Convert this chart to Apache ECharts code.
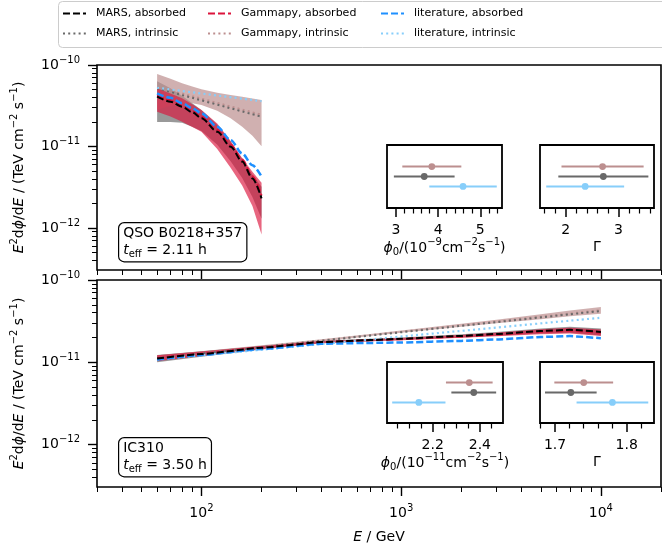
<!DOCTYPE html>
<html><head><meta charset="utf-8">
<script src="https://cdn.jsdelivr.net/npm/echarts@6/dist/echarts.min.js"></script>
<style>html,body{margin:0;padding:0;background:#fff}#c{width:662px;height:547px}</style>
</head><body><div id="c"></div>
<script>
// ---------------- data ----------------
const seriesNames = ['MARS, absorbed', 'MARS, intrinsic', 'Gammapy, absorbed', 'Gammapy, intrinsic', 'literature, absorbed', 'literature, intrinsic'];
const xTickLabels = [100, 1000, 10000];
const yTickLabels = [1e-12, 1e-11, 1e-10];

// Top panel: QSO B0218+357
const topE = [60, 70, 80, 90, 100, 120, 140, 160, 180, 200];
const topMarsAbs = [4.08e-11, 3.55e-11, 3.08e-11, 2.63e-11, 2.22e-11, 1.52e-11, 9.95e-12, 6.52e-12, 4.06e-12, 2.31e-12];
const topGammapyAbs = [4.25e-11, 3.7e-11, 3.2e-11, 2.75e-11, 2.32e-11, 1.6e-11, 1.05e-11, 6.9e-12, 4.3e-12, 2.5e-12];
const topLitAbs = [4.5e-11, 3.95e-11, 3.4e-11, 2.95e-11, 2.55e-11, 1.75e-11, 1.2e-11, 8.2e-12, 5.9e-12, 4.27e-12];
const topIntrE = [60, 200];
const topMarsIntr = [5.18e-11, 2.32e-11];
const topGammapyIntr = [5.4e-11, 2.45e-11];
const topLitIntr = [5.25e-11, 3.6e-11];
const topMarsAbsLo = [2.0e-11, 2.0e-11, 1.95e-11, 1.75e-11, 1.55e-11, 1.05e-11, 6.6e-12, 4.1e-12, 2.4e-12, 1.3e-12];
const topMarsAbsHi = [6.3e-11, 5.2e-11, 4.2e-11, 3.4e-11, 2.8e-11, 1.85e-11, 1.15e-11, 7.0e-12, 4.5e-12, 3.2e-12];
const topGammapyAbsLo = [2.67e-11, 2.34e-11, 2.01e-11, 1.74e-11, 1.52e-11, 9.3e-12, 5.5e-12, 3.31e-12, 1.86e-12, 8.3e-13];
const topGammapyAbsHi = [5.18e-11, 4.47e-11, 3.9e-11, 3.31e-11, 2.81e-11, 1.92e-11, 1.17e-11, 7.16e-12, 4.91e-12, 3.6e-12];
const topGammapyIntrLo = [2.82e-11, 3.16e-11, 3.39e-11, 3.39e-11, 3.24e-11, 2.75e-11, 2.22e-11, 1.75e-11, 1.35e-11, 1.01e-11];
const topGammapyIntrHi = [7.76e-11, 6.76e-11, 5.96e-11, 5.43e-11, 5.04e-11, 4.57e-11, 4.29e-11, 4.07e-11, 3.89e-11, 3.72e-11];

// Bottom panel: IC310
const botE = [60, 100, 200, 400, 700, 1000, 2000, 3000, 5000, 7000, 10000];
const botMarsAbs = [1.11e-11, 1.26e-11, 1.50e-11, 1.76e-11, 1.86e-11, 1.93e-11, 2.09e-11, 2.21e-11, 2.40e-11, 2.48e-11, 2.34e-11];
const botGammapyAbs = [1.12e-11, 1.27e-11, 1.51e-11, 1.76e-11, 1.85e-11, 1.91e-11, 2.06e-11, 2.17e-11, 2.35e-11, 2.42e-11, 2.28e-11];
const botLitAbs = [1.08e-11, 1.23e-11, 1.45e-11, 1.68e-11, 1.72e-11, 1.74e-11, 1.82e-11, 1.89e-11, 2.03e-11, 2.08e-11, 1.96e-11];
const botIntrE = [60, 10000];
const botMarsIntr = [1.12e-11, 4.2e-11];
const botGammapyIntr = [1.12e-11, 4.3e-11];
const botLitIntr = [1.08e-11, 3.48e-11];
const botMarsAbsLo = [1.00e-11, 1.17e-11, 1.43e-11, 1.70e-11, 1.80e-11, 1.86e-11, 2.00e-11, 2.10e-11, 2.23e-11, 2.28e-11, 2.12e-11];
const botMarsAbsHi = [1.23e-11, 1.36e-11, 1.58e-11, 1.83e-11, 1.93e-11, 2.00e-11, 2.19e-11, 2.33e-11, 2.58e-11, 2.70e-11, 2.58e-11];
const botGammapyAbsLo = [1.03e-11, 1.19e-11, 1.44e-11, 1.70e-11, 1.80e-11, 1.85e-11, 1.98e-11, 2.07e-11, 2.19e-11, 2.23e-11, 2.08e-11];
const botGammapyAbsHi = [1.22e-11, 1.35e-11, 1.58e-11, 1.82e-11, 1.91e-11, 1.97e-11, 2.15e-11, 2.28e-11, 2.52e-11, 2.63e-11, 2.50e-11];
const botGammapyIntrLo = [1.035e-11, 1.203e-11, 1.473e-11, 1.78e-11, 2.08e-11, 2.29e-11, 2.70e-11, 2.98e-11, 3.33e-11, 3.62e-11, 3.90e-11];
const botGammapyIntrHi = [1.216e-11, 1.364e-11, 1.614e-11, 1.91e-11, 2.21e-11, 2.43e-11, 2.93e-11, 3.29e-11, 3.83e-11, 4.26e-11, 4.70e-11];

// Insets (rows: Gammapy, MARS, literature)
const insetRowY = [1, 0, -1];
const topPhi0 = [3.85, 3.67, 4.59];
const topPhi0Err = [0.70, 0.72, 0.80];
const topGamma = [2.70, 2.715, 2.37];
const topGammaErr = [0.78, 0.855, 0.74];
const botPhi0 = [2.355, 2.374, 2.141];
const botPhi0Err = [0.099, 0.095, 0.113];
const botGamma = [1.740, 1.722, 1.780];
const botGammaErr = [0.041, 0.036, 0.050];
const topPhiTicks = [3, 4, 5];
const topGammaTicks = [2, 3];
const botPhiTicks = [2.2, 2.4];
const botGammaTicks = [1.7, 1.8];

// ---------------- styling ----------------
const F = 'DejaVu Sans';
const C = {
  mars: '#000000', marsIntr: '#696969',
  gp: '#DC143C', gpIntr: '#BC8F8F',
  lit: '#1E90FF', litIntr: '#87CEFA'
};
const pointColors = ['#BC8F8F', '#696969', '#87CEFA'];
const DASH = [7, 3], DOT = [2, 3.2];

function richSet(size, supSize, lh) {
  return {
    n: {fontFamily: F, fontSize: size, color: '#000', lineHeight: lh},
    i: {fontFamily: F, fontSize: size, fontStyle: 'italic', color: '#000', lineHeight: lh},
    sup: {fontFamily: F, fontSize: supSize, color: '#000', verticalAlign: 'top', lineHeight: supSize + 1},
    sub: {fontFamily: F, fontSize: supSize, color: '#000', verticalAlign: 'bottom', lineHeight: supSize + 1}
  };
}

const xMinor = [];
for (const d of [10, 100, 1000, 10000]) for (let m = 2; m <= 9; m++) { const v = m * d; if (v >= 30 && v <= 20000) xMinor.push(v); }
const yMinor = [];
for (const d of [1e-13, 1e-12, 1e-11]) for (let m = 2; m <= 9; m++) { const v = m * d; if (v >= 3.05e-13 && v <= 1e-10) yMinor.push(v); }

const pts = (xs, ys) => xs.map((x, i) => [x, ys[i]]);

function lineS(name, g, xs, ys, color, width, dash, z) {
  return {type: 'line', name, xAxisIndex: 2 * g, yAxisIndex: 2 * g, data: pts(xs, ys),
    symbol: 'none', smooth: g === 0 ? 0.3 : 0.15, smoothMonotone: 'x',
    lineStyle: {color, width, type: dash}, itemStyle: {color}, z, silent: true};
}
function bandS(g, xs, lo, hi, color, op) {
  return {type: 'custom', xAxisIndex: 2 * g, yAxisIndex: 2 * g, z: 1, silent: true,
    data: xs.map((x, i) => [x, lo[i], hi[i]]),
    encode: {x: 0, y: [1, 2]},
    renderItem(params, api) {
      if (params.dataIndex !== 0) return {type: 'group', children: []};
      const upper = xs.map((x, i) => api.coord([x, hi[i]]));
      const lower = xs.map((x, i) => api.coord([x, lo[i]])).reverse();
      return {type: 'polygon', shape: {points: upper.concat(lower)}, style: {fill: color, opacity: op}};
    }};
}
function insetS(k, vals, errs) {
  return {type: 'custom', xAxisIndex: 4 + 2 * k, yAxisIndex: 4 + k, silent: true, z: 5,
    data: vals.map((v, i) => [v, insetRowY[i], errs[i], i]),
    encode: {x: 0, y: 1},
    renderItem(params, api) {
      const c = api.coord([api.value(0), api.value(1)]);
      const l = api.coord([api.value(0) - api.value(2), api.value(1)]);
      const r = api.coord([api.value(0) + api.value(2), api.value(1)]);
      const col = pointColors[api.value(3)];
      return {type: 'group', children: [
        {type: 'line', shape: {x1: l[0], y1: l[1], x2: r[0], y2: r[1]}, style: {stroke: col, lineWidth: 2}},
        {type: 'circle', shape: {cx: c[0], cy: c[1], r: 3.4}, style: {fill: col}}
      ]};
    }};
}

const yTitle = '{i|E}{sup|2}{n|d}{i|ϕ}{n|/d}{i|E}{n| / (TeV cm}{sup|−2}{n| s}{sup|−1}{n|)}';
const noLine = {show: false, onZero: false};

function mainX(g) {
  return [
    {type: 'log', logBase: 10, gridIndex: g, position: 'bottom', min: 30, max: 20000,
      axisLine: noLine, splitLine: {show: false},
      axisTick: {customValues: xTickLabels, length: 9, lineStyle: {color: '#000', width: 1.4}},
      axisLabel: {show: g === 1, customValues: xTickLabels, margin: 16,
        formatter: v => '{n|10}{sup|' + Math.round(Math.log10(v)) + '}', rich: richSet(14, 10, 20)},
      name: g === 1 ? '{i|E}{n| / GeV}' : '', nameLocation: 'middle', nameGap: 40,
      nameTextStyle: {rich: richSet(14, 10, 20)}},
    {type: 'log', logBase: 10, gridIndex: g, position: 'bottom', min: 30, max: 20000,
      axisLine: noLine, splitLine: {show: false},
      axisTick: {customValues: xMinor, length: 5, lineStyle: {color: '#000', width: 1}},
      axisLabel: {show: false}}
  ];
}
function mainY(g) {
  return [
    {type: 'log', logBase: 10, gridIndex: g, position: 'left', min: 3.05e-13, max: 1e-10,
      axisLine: noLine, splitLine: {show: false},
      axisTick: {customValues: yTickLabels, length: 9, lineStyle: {color: '#000', width: 1.4}},
      axisLabel: {customValues: yTickLabels, margin: 17,
        formatter: v => '{n|10}{sup|−' + (-Math.round(Math.log10(v))) + '}', rich: richSet(14, 10, 20)},
      name: yTitle, nameLocation: 'middle', nameRotate: 90, nameGap: 68,
      nameTextStyle: {rich: richSet(14, 10, 20)}},
    {type: 'log', logBase: 10, gridIndex: g, position: 'left', min: 3.05e-13, max: 1e-10,
      axisLine: noLine, splitLine: {show: false},
      axisTick: {customValues: yMinor, length: 5, lineStyle: {color: '#000', width: 1}},
      axisLabel: {show: false}}
  ];
}
function insetX(g, min, max, major, minor, name) {
  return [
    {type: 'value', gridIndex: g, position: 'bottom', min, max,
      axisLine: noLine, splitLine: {show: false},
      axisTick: {customValues: major, length: 9, lineStyle: {color: '#000', width: 1.5}},
      axisLabel: {customValues: major, fontFamily: F, fontSize: 14, color: '#000', margin: 15,
        hideOverlap: false, formatter: v => String(v)},
      name, nameLocation: 'middle', nameGap: 29, nameTextStyle: {rich: richSet(14, 10, 20)}},
    {type: 'value', gridIndex: g, position: 'bottom', min, max,
      axisLine: noLine, splitLine: {show: false},
      axisTick: {customValues: minor, length: 5.5, lineStyle: {color: '#000', width: 1.2}},
      axisLabel: {show: false}}
  ];
}

const gridBox = (left, top, width, height, bw) => ({left, top, width, height, show: true,
  borderColor: '#000', borderWidth: bw, backgroundColor: '#fff'});

const xAxis = [].concat(
  mainX(0), mainX(1),
  insetX(2, 2.787, 5.514, topPhiTicks, [3.2, 3.4, 3.6, 3.8, 4.2, 4.4, 4.6, 4.8, 5.2, 5.4],
    '{i|ϕ}{sub|0}{n|/(10}{sup|−9}{n|cm}{sup|−2}{n|s}{sup|−1}{n|)}'),
  insetX(3, 1.512, 3.677, topGammaTicks, [1.6, 1.8, 2.2, 2.4, 2.6, 2.8, 3.2, 3.4, 3.6], '{n|Γ}'),
  insetX(4, 2.006, 2.498, botPhiTicks, [2.05, 2.1, 2.15, 2.25, 2.3, 2.35, 2.45],
    '{i|ϕ}{sub|0}{n|/(10}{sup|−11}{n|cm}{sup|−2}{n|s}{sup|−1}{n|)}'),
  insetX(5, 1.679, 1.838, botGammaTicks, [1.68, 1.72, 1.74, 1.76, 1.78, 1.82], '{n|Γ}')
);
const yAxis = [].concat(mainY(0), mainY(1),
  [2, 3].map(g => ({type: 'value', gridIndex: g, min: -3.17, max: 3.17, show: false, axisLine: noLine})),
  [4, 5].map(g => ({type: 'value', gridIndex: g, min: -3.08, max: 3.08, show: false, axisLine: noLine}))
);

const series = [
  bandS(0, topE, topMarsAbsLo, topMarsAbsHi, '#808080', 0.8),
  bandS(0, topE, topGammapyIntrLo, topGammapyIntrHi, C.gpIntr, 0.7),
  bandS(0, topE, topGammapyAbsLo, topGammapyAbsHi, C.gp, 0.65),
  bandS(1, botE, botMarsAbsLo, botMarsAbsHi, '#808080', 0.8),
  bandS(1, botE, botGammapyIntrLo, botGammapyIntrHi, C.gpIntr, 0.7),
  bandS(1, botE, botGammapyAbsLo, botGammapyAbsHi, C.gp, 0.65),
  lineS(seriesNames[3], 0, topIntrE, topGammapyIntr, C.gpIntr, 2, DOT, 3),
  lineS(seriesNames[1], 0, topIntrE, topMarsIntr, C.marsIntr, 2, DOT, 3),
  lineS(seriesNames[5], 0, topIntrE, topLitIntr, C.litIntr, 2.2, DOT, 3),
  lineS(seriesNames[2], 0, topE, topGammapyAbs, C.gp, 2, DASH, 3),
  lineS(seriesNames[4], 0, topE, topLitAbs, C.lit, 2.5, DASH, 3),
  lineS(seriesNames[0], 0, topE, topMarsAbs, C.mars, 2, DASH, 3),
  lineS(seriesNames[3], 1, botIntrE, botGammapyIntr, C.gpIntr, 2, DOT, 3),
  lineS(seriesNames[1], 1, botIntrE, botMarsIntr, C.marsIntr, 2, DOT, 3),
  lineS(seriesNames[5], 1, botIntrE, botLitIntr, C.litIntr, 2.2, DOT, 3),
  lineS(seriesNames[2], 1, botE, botGammapyAbs, C.gp, 2, DASH, 3),
  lineS(seriesNames[4], 1, botE, botLitAbs, C.lit, 2.5, DASH, 3),
  lineS(seriesNames[0], 1, botE, botMarsAbs, C.mars, 2, DASH, 3),
  insetS(0, topPhi0, topPhi0Err),
  insetS(1, topGamma, topGammaErr),
  insetS(2, botPhi0, botPhi0Err),
  insetS(3, botGamma, botGammaErr)
];

const legendBase = {orient: 'vertical', top: 8, padding: 0, itemWidth: 23, itemHeight: 11, itemGap: 9,
  selectedMode: false, z: 10, itemStyle: {opacity: 0},
  textStyle: {fontFamily: F, fontSize: 11, color: '#000', padding: [0, 0, 0, 5]}};

const annRich = {
  n: {fontFamily: F, fontSize: 14, color: '#000', lineHeight: 17},
  i: {fontFamily: F, fontSize: 14, fontStyle: 'italic', color: '#000', lineHeight: 17},
  sub: {fontFamily: F, fontSize: 10, color: '#000', verticalAlign: 'bottom', lineHeight: 11}
};

const option = {
  animation: false,
  backgroundColor: '#fff',
  grid: [
    gridBox(97, 65, 564, 205, 1.6),
    gridBox(97, 280, 564, 207, 1.6),
    gridBox(387, 145, 115, 63, 1.8),
    gridBox(540, 145, 114, 63, 1.8),
    gridBox(387, 362, 116, 61, 1.8),
    gridBox(540, 362, 114, 61, 1.8)
  ],
  xAxis, yAxis, series,
  legend: [
    Object.assign({}, legendBase, {left: 62, data: [seriesNames[0], seriesNames[1]]}),
    Object.assign({}, legendBase, {left: 207, data: [seriesNames[2], seriesNames[3]]}),
    Object.assign({}, legendBase, {left: 380, data: [seriesNames[4], seriesNames[5]]})
  ],
  graphic: [
    {type: 'rect', left: 58, top: 1, z: 1, shape: {width: 612, height: 46, r: 4},
      style: {fill: '#fff', stroke: '#cccccc', lineWidth: 1}},
    {type: 'text', left: 118, top: 222, z: 20,
      style: {text: '{n|QSO B0218+357}\n{i|t}{sub|eff}{n| = 2.11 h}', rich: annRich,
        backgroundColor: '#fff', borderColor: '#000', borderWidth: 1.2, borderRadius: 5, padding: [2, 4, 2, 4]}},
    {type: 'text', left: 118, top: 437, z: 20,
      style: {text: '{n|IC310}\n{i|t}{sub|eff}{n| = 3.50 h}', rich: annRich,
        backgroundColor: '#fff', borderColor: '#000', borderWidth: 1.2, borderRadius: 5, padding: [2, 4, 2, 4]}}
  ]
};

const chart = echarts.init(document.getElementById('c'), null, {renderer: 'canvas'});
chart.setOption(option);
</script>
</body></html>
